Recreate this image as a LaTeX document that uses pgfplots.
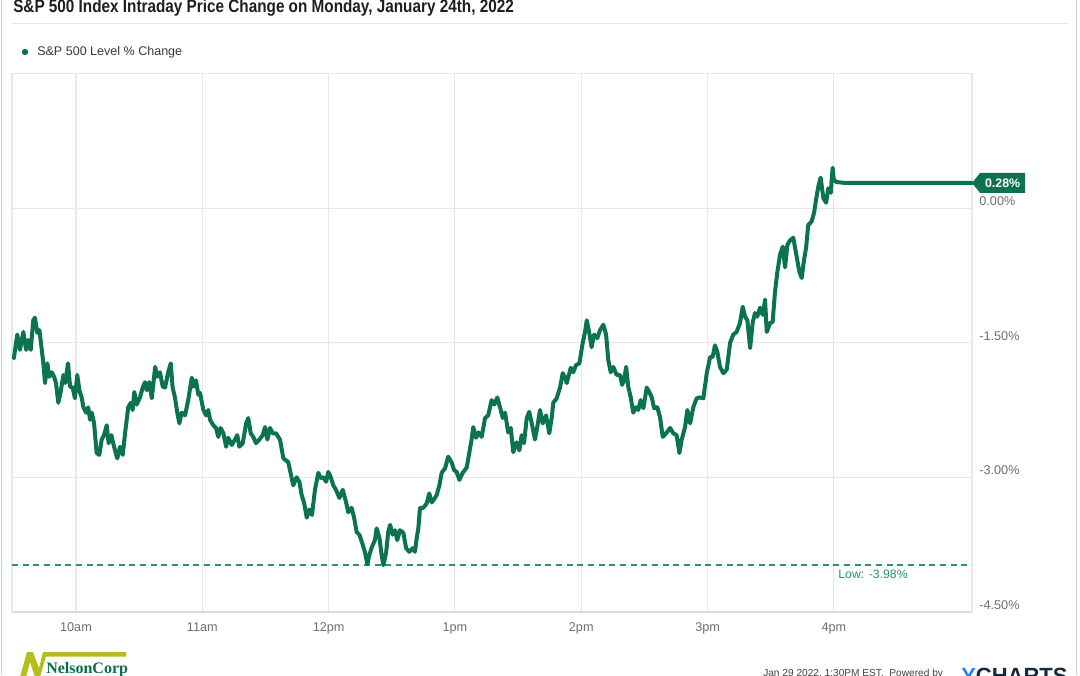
\documentclass[border=0pt]{standalone}
\usepackage{pgfplots}
\pgfplotsset{compat=1.18}
\usepackage{pgfplotstable}
\usepackage{fontspec}
\setmainfont{Liberation Sans}
\newfontfamily\serifb{Liberation Serif}
\definecolor{lg}{RGB}{11,115,80}
\definecolor{lowg}{RGB}{40,150,105}
\definecolor{gridc}{RGB}{232,232,232}
\definecolor{tickc}{RGB}{110,110,110}
\definecolor{logoy}{RGB}{181,189,31}
\definecolor{logog}{RGB}{10,110,70}
\definecolor{cardc}{RGB}{208,208,208}
\definecolor{basec}{RGB}{218,218,218}
\definecolor{ycblue}{RGB}{26,140,255}
\definecolor{ycdark}{RGB}{25,40,60}

\pgfplotstableread{
m p
0.5 -1.67
2.1 -1.41
3.4 -1.58
5.0 -1.38
6.3 -1.58
7.3 -1.47
8.5 -1.58
9.7 -1.25
10.5 -1.22
11.6 -1.39
12.6 -1.36
13.2 -1.47
14.5 -1.73
15.3 -1.95
16.4 -1.73
17.3 -1.88
18.5 -1.83
19.6 -1.88
20.5 -1.95
21.6 -2.17
22.7 -2.05
24.0 -1.86
24.9 -1.95
26.2 -1.73
27.2 -1.99
28.4 -2.00
29.5 -2.12
30.6 -1.86
31.6 -2.03
32.7 -2.11
33.5 -2.22
34.8 -2.28
35.8 -2.22
36.7 -2.36
37.5 -2.28
38.6 -2.40
39.8 -2.73
41.1 -2.75
42.2 -2.58
43.3 -2.53
44.6 -2.42
45.5 -2.62
46.8 -2.53
48.1 -2.66
49.6 -2.79
50.9 -2.66
52.2 -2.75
53.3 -2.51
54.8 -2.22
56.0 -2.17
56.9 -2.25
57.7 -2.05
58.8 -2.19
60.4 -2.11
61.7 -2.00
62.8 -1.94
63.6 -2.03
64.8 -1.94
66.0 -2.12
67.6 -1.77
68.6 -1.88
69.9 -1.83
71.2 -1.99
72.3 -2.00
73.8 -1.83
75.0 -1.73
75.9 -2.00
77.0 -2.11
78.1 -2.28
79.1 -2.40
80.2 -2.28
81.8 -2.31
83.3 -2.14
85.0 -1.89
85.7 -1.99
87.0 -1.92
88.1 -2.08
88.9 -2.06
90.5 -2.25
91.8 -2.31
92.8 -2.25
93.7 -2.36
95.2 -2.42
96.5 -2.45
97.6 -2.55
98.7 -2.45
100.0 -2.51
101.3 -2.66
102.3 -2.56
104.0 -2.64
105.5 -2.58
106.6 -2.53
107.6 -2.66
109.2 -2.62
110.8 -2.40
111.8 -2.34
113.0 -2.51
114.2 -2.55
115.5 -2.62
117.1 -2.58
118.7 -2.53
119.8 -2.44
120.9 -2.58
122.2 -2.45
123.4 -2.51
125.0 -2.51
126.9 -2.58
128.5 -2.79
130.8 -2.83
133.2 -3.09
134.8 -3.00
136.1 -3.05
137.2 -3.20
138.3 -3.28
139.6 -3.45
140.8 -3.36
142.1 -3.42
143.5 -3.14
145.1 -2.95
146.2 -3.01
147.5 -3.00
148.8 -3.05
149.8 -2.94
151.0 -3.00
152.2 -3.09
153.5 -3.14
155.1 -3.23
156.7 -3.14
158.3 -3.28
159.3 -3.39
160.9 -3.34
162.1 -3.45
163.3 -3.61
164.6 -3.64
166.2 -3.75
167.3 -3.84
168.4 -3.97
169.3 -3.87
170.5 -3.78
172.0 -3.70
172.8 -3.57
174.1 -3.67
175.2 -3.87
176.0 -3.98
177.3 -3.84
178.3 -3.61
179.2 -3.53
180.4 -3.64
181.5 -3.59
182.6 -3.70
183.9 -3.59
185.5 -3.62
186.8 -3.79
188.3 -3.83
189.9 -3.79
191.0 -3.83
191.8 -3.68
192.6 -3.57
193.4 -3.34
195.0 -3.34
196.6 -3.29
197.8 -3.18
199.0 -3.28
200.5 -3.23
201.3 -3.20
202.6 -3.09
203.7 -2.95
205.3 -2.90
206.8 -2.77
208.5 -2.84
209.6 -2.92
210.8 -2.94
212.1 -3.03
213.7 -2.95
215.6 -2.89
216.8 -2.73
217.9 -2.58
218.7 -2.44
220.0 -2.56
221.1 -2.50
222.7 -2.55
224.3 -2.34
225.8 -2.31
227.4 -2.14
228.7 -2.19
230.1 -2.11
231.4 -2.22
232.7 -2.34
233.8 -2.28
235.3 -2.50
236.5 -2.45
237.7 -2.72
239.3 -2.61
240.6 -2.70
241.7 -2.53
242.8 -2.62
244.1 -2.34
245.3 -2.27
246.5 -2.40
248.0 -2.58
249.1 -2.44
250.4 -2.25
251.7 -2.40
253.3 -2.31
254.8 -2.51
256.0 -2.33
256.7 -2.17
258.3 -2.12
259.9 -2.00
261.2 -1.84
262.3 -1.89
263.1 -1.95
265.0 -1.78
266.2 -1.83
267.5 -1.75
269.1 -1.73
270.7 -1.50
271.8 -1.38
272.6 -1.25
273.8 -1.39
274.9 -1.55
276.1 -1.41
277.6 -1.45
278.9 -1.36
280.5 -1.30
281.8 -1.41
282.8 -1.69
284.0 -1.83
285.2 -1.77
286.8 -1.86
288.4 -1.86
289.4 -1.97
290.3 -1.92
291.3 -1.77
292.3 -1.99
293.5 -2.11
294.7 -2.28
296.0 -2.22
297.1 -2.25
298.2 -2.14
299.5 -2.23
301.1 -2.00
302.3 -2.05
303.5 -2.11
304.6 -2.23
306.1 -2.22
307.4 -2.33
308.7 -2.55
310.3 -2.51
312.2 -2.45
313.7 -2.51
315.3 -2.53
316.6 -2.73
317.7 -2.58
319.3 -2.44
320.4 -2.25
321.7 -2.40
323.2 -2.22
324.8 -2.12
326.1 -2.11
328.0 -2.12
329.6 -1.84
331.2 -1.66
332.4 -1.66
333.5 -1.53
334.6 -1.60
335.9 -1.77
337.5 -1.84
339.1 -1.80
340.7 -1.50
342.2 -1.41
343.8 -1.38
345.4 -1.28
346.7 -1.10
347.8 -1.21
348.9 -1.25
350.2 -1.56
351.4 -1.28
352.5 -1.17
353.6 -1.21
354.9 -1.11
356.2 -1.19
357.3 -1.02
358.1 -1.38
359.7 -1.28
360.9 -1.27
362.0 -0.94
363.1 -0.72
364.4 -0.52
365.7 -0.43
366.8 -0.66
367.9 -0.41
369.2 -0.36
370.7 -0.33
372.3 -0.54
373.6 -0.71
374.7 -0.78
375.8 -0.58
376.8 -0.44
377.8 -0.19
379.4 -0.15
380.6 -0.05
381.5 0.09
382.6 0.24
383.7 0.34
385.0 0.11
386.3 0.06
387.3 0.22
388.5 0.17
389.4 0.45
390.0 0.31
391.3 0.29
395.3 0.28
455.6 0.28
}\spx

\begin{document}
\begin{tikzpicture}
% decorations in pixel units
\begin{scope}[x=0.75pt,y=-0.75pt]
\draw[cardc, line width=0.9pt] (1.5,0) -- (1.5,675);
\draw[cardc, line width=0.9pt] (1076.5,0) -- (1076.5,675);
\node[anchor=base west, inner sep=0, text=black!88, font=\bfseries\fontsize{13.5}{16}\selectfont] at (13,12) {\scalebox{0.85}[1]{S\&P 500 Index Intraday Price Change on Monday, January 24th, 2022}};
\draw[gridc, line width=0.9pt] (12,23.5) -- (1068,23.5);
\fill[lg] (25,52) circle (3.2);
\node[anchor=west, inner sep=0, text=black!78, font=\fontsize{9.4}{11}\selectfont] at (37,52) {S\&P 500 Level \% Change};
% footer
\fill[logoy] (20,677) -- (27,652) -- (33,652) -- (39,668) -- (43,652) -- (126,652) -- (126,656.5) -- (46,656.5) -- (40,677) -- (35,677) -- (30,662) -- (26,677) -- cycle;
\node[anchor=base west, inner sep=0, text=logog, font=\serifb\bfseries\fontsize{12}{14}\selectfont] at (46,673) {NelsonCorp};
\node[anchor=north west, inner sep=0, text=black!75, font=\fontsize{7.6}{9}\selectfont] at (763,669) {Jan 29 2022, 1:30PM EST.\ \ Powered by};
\node[anchor=north west, inner sep=0, font=\bfseries\fontsize{16.5}{18}\selectfont] at (961,668) {\textcolor{ycblue}{Y}\textcolor{ycdark}{CHARTS}};
\end{scope}

\begin{axis}[
 at={(9pt,-458.9pt)}, anchor=south west,
 scale only axis, width=720pt, height=403.8pt,
 xmin=-0.4, xmax=455.6, ymin=-4.5, ymax=1.5,
 xtick={30,90,150,210,270,330,390},
 xticklabels={10am,11am,12pm,1pm,2pm,3pm,4pm},
 ytick={-4.5,-3,-1.5,0,1.5},
 yticklabels={-4.50\%,-3.00\%,-1.50\%,0.00\%,{}},
 yticklabel pos=right,
 grid=major, major grid style={gridc, line width=0.8pt},
 axis line style={gridc, line width=0.8pt},
 major tick length=0pt,
 tick label style={font=\fontsize{9.5}{11}\selectfont, text=tickc},
 yticklabel style={anchor=west, yshift=5.25pt, xshift=2pt},
 xticklabel style={yshift=-4.5pt},
 clip=false,
]
\draw[basec, line width=1.6pt] (rel axis cs:0,0) -- (rel axis cs:1,0);
\addplot[lowg, dash pattern=on 4.5pt off 3.5pt, line width=1.4pt] coordinates {(-0.4,-3.98) (455.6,-3.98)};
\addplot[lg, line width=3pt, line join=round, line cap=round] table {\spx};
\fill[lg] (axis cs:455.6,0.28) -- ++(6pt,7.5pt) -- ++(33.75pt,0pt) -- ++(0pt,-15pt) -- ++(-33.75pt,0pt) -- cycle;
\node[text=white, font=\bfseries\fontsize{9.3}{11}\selectfont, xshift=23pt] at (axis cs:455.6,0.28) {0.28\%};
\node[anchor=north west, inner sep=0, text=lowg, font=\fontsize{9.2}{11}\selectfont, yshift=-3.5pt] at (axis cs:392,-3.98) {Low: -3.98\%};
\end{axis}
\pgfresetboundingbox
\path[use as bounding box] (0,0) rectangle (810pt,-506.25pt);
\end{tikzpicture}
\end{document}
